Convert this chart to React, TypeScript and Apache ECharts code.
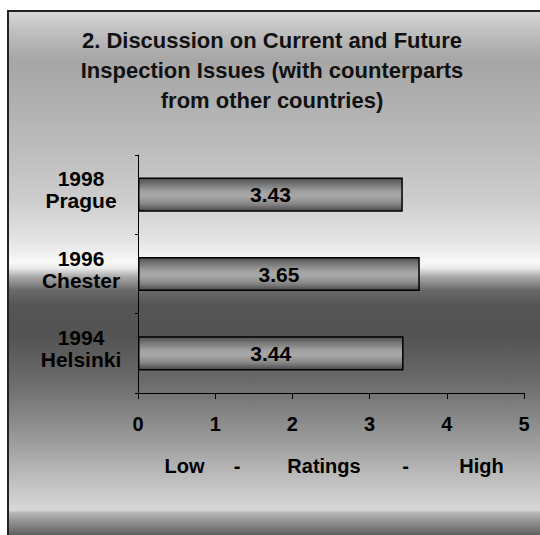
import React, { useEffect, useRef } from "react";
import * as echarts from "echarts";

const TITLE_LINES = [
  "2. Discussion on Current and Future",
  "Inspection Issues (with counterparts",
  "from other countries)",
];
const CATEGORIES = ["1994\nHelsinki", "1996\nChester", "1998\nPrague"];
const RATINGS = [3.44, 3.65, 3.43];
const X_MIN = 0;
const X_MAX = 5;
const X_INTERVAL = 1;

const FONT = "'Liberation Sans', Arial, sans-serif";

export default function App() {
  const ref = useRef<HTMLDivElement>(null);

  useEffect(() => {
    if (!ref.current) return;
    const chart = echarts.init(ref.current, undefined, { renderer: "svg" });

    const H = 530;
    const y0 = 11;
    const st = (y: number, c: string) => ({ offset: Math.min(1, Math.max(0, (y - y0) / H)), color: c });

    const bgGradient = new echarts.graphic.LinearGradient(0, 0, 0, 1, [
      st(12, "#d6d6d6"),
      st(35, "#bcbcbc"),
      st(60, "#a6a6a6"),
      st(100, "#afafaf"),
      st(150, "#bdbdbd"),
      st(200, "#cdcdcd"),
      st(240, "#e4e4e4"),
      st(262, "#f8f8f8"),
      st(268, "#ebebeb"),
      st(277, "#a8a8a8"),
      st(290, "#6a6a6a"),
      st(305, "#555555"),
      st(335, "#535353"),
      st(380, "#6a6a6a"),
      st(430, "#929292"),
      st(470, "#b6b6b6"),
      st(510, "#d8d8d8"),
      st(513, "#b5b5b5"),
      st(520, "#989898"),
      st(528, "#7a7a7a"),
      st(536, "#5c5c5c"),
    ]);

    const barGradient = new echarts.graphic.LinearGradient(0, 0, 0, 1, [
      { offset: 0, color: "#505050" },
      { offset: 0.2, color: "#7a7a7a" },
      { offset: 0.4, color: "#a0a0a0" },
      { offset: 0.55, color: "#a8a8a8" },
      { offset: 0.78, color: "#888888" },
      { offset: 1, color: "#4a4a4a" },
    ]);

    const nameSeg = (w: number) => ({
      width: w,
      align: "center",
      fontFamily: FONT,
      fontSize: 20,
      fontWeight: "bold",
      lineHeight: 24,
      color: "#000",
    });

    const catStyle = {
      fontFamily: FONT,
      fontSize: 21,
      fontWeight: "bold",
      color: "#000",
      lineHeight: 22,
      align: "center",
    };

    chart.setOption({
      animation: false,
      backgroundColor: "#ffffff",
      graphic: [
        {
          type: "rect",
          z: -100,
          silent: true,
          shape: { x: 8, y: y0, width: 545, height: H },
          style: { fill: bgGradient, stroke: "#222222", lineWidth: 2 },
        },
      ],
      title: {
        text: TITLE_LINES.join("\n"),
        left: 272,
        textAlign: "center",
        top: 25,
        padding: 0,
        textStyle: {
          fontFamily: FONT,
          fontSize: 22,
          fontWeight: "bold",
          color: "#111111",
          lineHeight: 30,
        },
      },
      grid: {
        left: 138,
        right: 16,
        top: 155,
        bottom: 142,
        containLabel: false,
        outerBoundsMode: "none",
      },
      xAxis: {
        type: "value",
        min: X_MIN,
        max: X_MAX,
        interval: X_INTERVAL,
        splitLine: { show: false },
        axisLine: { show: true, lineStyle: { color: "#000", width: 1 } },
        axisTick: { show: true, length: 6, lineStyle: { color: "#000" } },
        axisLabel: {
          margin: 21,
          fontFamily: FONT,
          fontSize: 20,
          fontWeight: "bold",
          color: "#000",
        },
        name: "{e| }{a|Low}{b|-}{c|Ratings}{d|-}{f|High}",
        nameLocation: "middle",
        nameGap: 61,
        nameTextStyle: {
          fontFamily: FONT,
          fontSize: 20,
          fontWeight: "bold",
          color: "#000",
          lineHeight: 24,
          rich: {
            e: nameSeg(33),
            a: nameSeg(81),
            b: nameSeg(24),
            c: nameSeg(150),
            d: nameSeg(13),
            f: nameSeg(139),
          },
        },
      },
      yAxis: {
        type: "category",
        data: CATEGORIES,
        axisLine: { show: true, lineStyle: { color: "#000", width: 1 } },
        axisTick: { show: true, length: 3, lineStyle: { color: "#000" } },
        axisLabel: {
          margin: 57,
          align: "center",
          verticalAlign: "middle",
          fontFamily: FONT,
          fontSize: 21,
          fontWeight: "bold",
          color: "#000",
          lineHeight: 22,
          formatter: (v: string) =>
            v.split("\n").map((s) => `{t|${s}}`).join("\n") + "\n{s| }",
          rich: {
            t: catStyle,
            s: { fontSize: 8, lineHeight: 10, fontFamily: FONT },
          },
        },
      },
      series: [
        {
          type: "bar",
          data: RATINGS,
          barWidth: "43%",
          itemStyle: {
            color: barGradient,
            borderColor: "#000",
            borderWidth: 1.5,
          },
          label: {
            show: true,
            position: "inside",
            formatter: (p: any) => p.value.toFixed(2),
            fontFamily: FONT,
            fontSize: 21,
            fontWeight: "bold",
            color: "#000",
          },
        },
      ],
    });

    return () => chart.dispose();
  }, []);

  return (
    <div
      ref={ref}
      style={{ position: "absolute", left: 0, top: 0, width: 540, height: 535 }}
    />
  );
}
